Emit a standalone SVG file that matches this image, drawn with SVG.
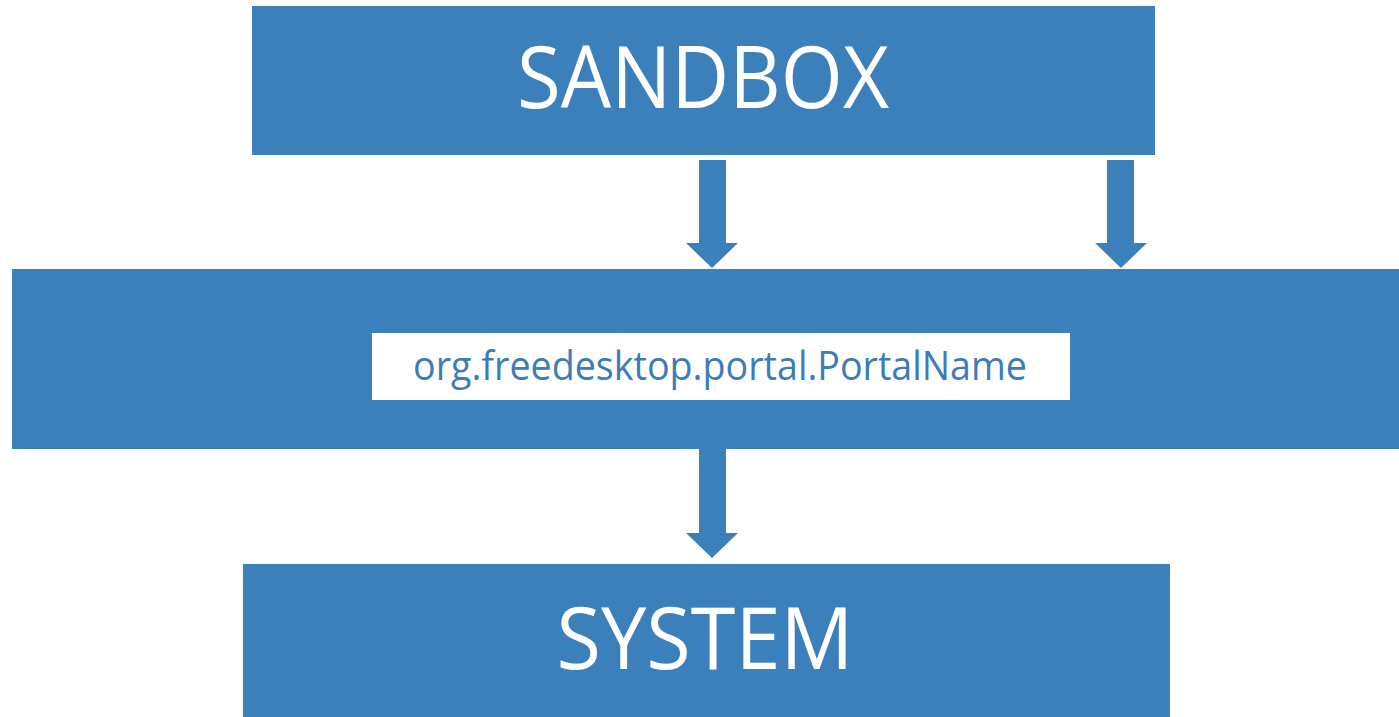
<svg xmlns="http://www.w3.org/2000/svg" width="1399" height="717" viewBox="0 0 1399 717">
  <style>
    .box { fill: #3b80bb; }
    .arrow { fill: #3b80bb; }
    .big { font-family: "Open Sans", "Liberation Sans", sans-serif; font-size: 86px; fill: #ffffff; text-anchor: middle; }
    .portal { font-family: "Open Sans", "Liberation Sans", sans-serif; font-size: 41px; fill: #3d7cb8; text-anchor: middle; }
  </style>
  <rect width="1399" height="717" fill="#ffffff"/>

  <g id="sandbox">
    <rect class="box" x="252" y="6" width="903" height="149"/>
    <text class="big" x="703" y="108" textLength="372" lengthAdjust="spacingAndGlyphs">SANDBOX</text>
  </g>

  <g id="portal-layer">
    <rect class="box" x="12" y="269" width="1387" height="180"/>
    <rect x="372" y="333" width="698" height="67" fill="#ffffff"/>
    <text class="portal" x="720" y="380" textLength="614" lengthAdjust="spacingAndGlyphs">org.freedesktop.portal.PortalName</text>
  </g>

  <g id="system">
    <rect class="box" x="243" y="564" width="927" height="153"/>
    <text class="big" x="705" y="669" textLength="297" lengthAdjust="spacingAndGlyphs">SYSTEM</text>
  </g>

  <g id="connectors">
    <!-- sandbox to portal layer, left -->
    <polygon class="arrow" points="699,160 726,160 726,243 738,243 712,268 686,243 699,243"/>
    <!-- sandbox to portal layer, right -->
    <polygon class="arrow" points="1107,160 1134,160 1134,243 1147,243 1121,268 1095,243 1107,243"/>
    <!-- portal layer to system -->
    <polygon class="arrow" points="699,449 726,449 726,533 738,533 712,558 686,533 699,533"/>
  </g>
</svg>
